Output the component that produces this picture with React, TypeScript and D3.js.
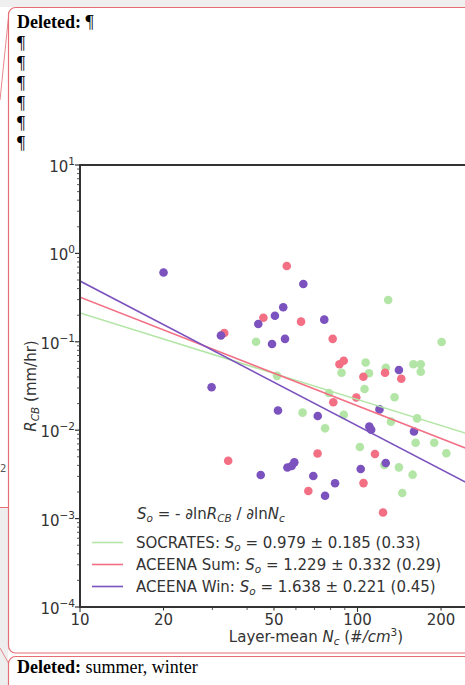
import React from 'react';
import * as d3 from 'd3';

const W = 465;
const H = 685;

// SOCRATES points (Nc in #/cm3, R_CB in mm/hr)
const socratesNc = [129, 43.1, 201, 107, 159, 169, 87.6, 110, 126.5, 169, 51.3, 106, 136, 78.9, 63.4, 89.2, 76.4, 132, 164, 102, 162, 189, 209, 125, 141, 158, 145];
const socratesR = [0.297, 0.1, 0.0995, 0.0583, 0.0557, 0.0557, 0.0447, 0.0441, 0.0509, 0.0459, 0.0412, 0.0292, 0.0236, 0.0264, 0.0158, 0.0149, 0.0105, 0.0125, 0.0136, 0.00646, 0.00722, 0.00722, 0.00548, 0.00404, 0.0038, 0.00314, 0.00195];

// ACEENA summer
const sumNc = [33.1, 34.2, 55.6, 45.8, 62.6, 81.4, 86.1, 89.2, 105, 125.7, 143.8, 99, 81.8, 71.8, 115.6, 66.5, 105.1, 123.6];
const sumR = [0.126, 0.00452, 0.72, 0.187, 0.169, 0.108, 0.0557, 0.0611, 0.0403, 0.0447, 0.0382, 0.0234, 0.0207, 0.00545, 0.00538, 0.00205, 0.00252, 0.00117];

// ACEENA winter
const winNc = [20, 32.2, 29.8, 43.9, 50.4, 54, 63.8, 75.9, 49.2, 54.8, 141, 51.7, 71.9, 120, 110.3, 112, 159.8, 44.8, 55.9, 57.9, 59.2, 69.3, 83, 76.4, 102.7, 126.4];
const winR = [0.608, 0.118, 0.0306, 0.159, 0.197, 0.246, 0.451, 0.178, 0.0944, 0.108, 0.048, 0.0167, 0.0145, 0.0172, 0.011, 0.0101, 0.00967, 0.00311, 0.00378, 0.00394, 0.00433, 0.00303, 0.00251, 0.00181, 0.00364, 0.00426];

// power-law fits: R = a * (Nc/10)^(-So)
const fitNames = ['SOCRATES', 'ACEENA Sum', 'ACEENA Win'];
const fitSlope = [0.979, 1.229, 1.638];
const fitErr = [0.185, 0.332, 0.221];
const fitR2 = ['0.33', '0.29', '0.45'];
const fitAt10 = [0.212, 0.32, 0.487];
const colors = ['#b3e6a6', '#f26f84', '#7b52be'];

const xTicks = [10, 20, 50, 100, 200];
const xMinor = [30, 40, 60, 70, 80, 90, 300];
const yTicks = [1e-4, 1e-3, 1e-2, 1e-1, 1, 10];
const yTickExp = ['−4', '−3', '−2', '−1', '0', '1'];

const FONT = '"DejaVu Sans", sans-serif';
const SERIF = '"Liberation Serif", "Times New Roman", serif';

export default function App() {
  const x = d3.scaleLog().domain([10, 100]).range([80, 357.5]);
  const y = d3.scaleLog().domain([1e-4, 10]).range([607, 165]);
  const xMax = 300;
  const left = x(10), right = x(xMax), top = y(10), bottom = y(1e-4);

  const yMinor: number[] = [];
  for (let e = -4; e < 1; e++) for (let k = 2; k < 10; k++) yMinor.push(k * Math.pow(10, e));

  const series = [
    { nc: socratesNc, r: socratesR },
    { nc: sumNc, r: sumR },
    { nc: winNc, r: winR },
  ];

  const fitPath = (k: number) => {
    const pts = [10, xMax].map(n => [x(n), y(fitAt10[k] * Math.pow(n / 10, -fitSlope[k]))] as [number, number]);
    return d3.line()(pts) || '';
  };

  const paraY = [49, 69, 89, 109, 129, 149];

  return (
    <svg width={W} height={H} style={{ position: 'fixed', left: 0, top: 0 }}>
      <rect x={0} y={0} width={W} height={H} fill="#ffffff" />
      {/* word page chrome */}
      <rect x={0} y={0} width={W} height={7} fill="#efefef" />
      <rect x={0} y={507} width={8} height={H - 507} fill="#eeeeee" />
      <line x1={9} y1={12} x2={0} y2={100} stroke="#e8868a" strokeWidth={1} />
      <line x1={0} y1={507.5} x2={9} y2={507.5} stroke="#e46e73" strokeWidth={1} />
      <line x1={0} y1={648} x2={9} y2={664} stroke="#e8868a" strokeWidth={1} />
      <text x={0} y={472} fontFamily={FONT} fontSize={10} fill="#555">2</text>
      <rect x={8.5} y={7.5} width={520} height={645.5} rx={7} fill="#ffffff" stroke="#e46e73" strokeWidth={1.2} />
      <rect x={8.5} y={656.5} width={520} height={60} rx={7} fill="#ffffff" stroke="#e46e73" strokeWidth={1.2} />
      <text x={17} y={28} fontFamily={SERIF} fontSize={18} fill="#000">
        <tspan fontWeight="bold">Deleted:</tspan> ¶
      </text>
      {paraY.map(py => (
        <text key={py} x={17} y={py} fontFamily={SERIF} fontSize={18} fill="#000">¶</text>
      ))}
      <text x={17} y={673} fontFamily={SERIF} fontSize={18} fill="#000">
        <tspan fontWeight="bold">Deleted:</tspan> summer, winter
      </text>

      {/* scatter */}
      {series.map((s, k) => (
        <g key={k}>
          {s.nc.map((n, i) => (
            <circle key={i} cx={x(n)} cy={y(s.r[i])} r={4.3} fill={colors[k]} />
          ))}
        </g>
      ))}

      {/* fit lines */}
      <defs>
        <clipPath id="plotclip">
          <rect x={left} y={top} width={right - left} height={bottom - top} />
        </clipPath>
      </defs>
      <g clipPath="url(#plotclip)">
        {fitNames.map((f, k) => (
          <path key={f} d={fitPath(k)} stroke={colors[k]} strokeWidth={1.6} fill="none" />
        ))}
      </g>

      {/* axes frame */}
      <rect x={left} y={top} width={right - left} height={bottom - top} fill="none" stroke="#333" strokeWidth={2} />

      {/* y ticks */}
      {yMinor.map((v, i) => (
        <line key={'ym' + i} x1={left - 3} x2={left} y1={y(v)} y2={y(v)} stroke="#333" strokeWidth={0.8} />
      ))}
      {yTicks.map((v, i) => (
        <g key={'y' + i}>
          <line x1={left - 5} x2={left} y1={y(v)} y2={y(v)} stroke="#333" strokeWidth={1.2} />
          <text x={left - 5} y={y(v) + 7} textAnchor="end" fontFamily={FONT} fontSize={15} fill="#333">
            10<tspan dy={-7} fontSize={10.5}>{yTickExp[i]}</tspan>
          </text>
        </g>
      ))}

      {/* x ticks */}
      {xMinor.map((v, i) => (
        <line key={'xm' + i} x1={x(v)} x2={x(v)} y1={bottom} y2={bottom + 3} stroke="#333" strokeWidth={0.8} />
      ))}
      {xTicks.map((v, i) => (
        <g key={'x' + i}>
          <line x1={x(v)} x2={x(v)} y1={bottom} y2={bottom + (v === 10 || v === 100 ? 5 : 3.5)} stroke="#333" strokeWidth={1.1} />
          <text x={x(v)} y={625} textAnchor="middle" fontFamily={FONT} fontSize={15} fill="#333">{v}</text>
        </g>
      ))}

      {/* axis labels */}
      <text x={316} y={642} textAnchor="middle" fontFamily={FONT} fontSize={15} fill="#333">
        Layer-mean <tspan fontStyle="italic">N</tspan>
        <tspan fontStyle="italic" fontSize={10.5} dy={3}>c</tspan>
        <tspan dy={-3}> (</tspan>
        <tspan fontStyle="italic">#/cm</tspan>
        <tspan fontSize={10.5} dy={-6}>3</tspan>
        <tspan dy={6}>)</tspan>
      </text>
      <text transform={`translate(36,386) rotate(-90)`} textAnchor="middle" fontFamily={FONT} fontSize={15} fill="#333">
        <tspan fontStyle="italic">R</tspan>
        <tspan fontStyle="italic" fontSize={10.5} dy={3}>CB</tspan>
        <tspan dy={-3}> (mm/hr)</tspan>
      </text>

      {/* legend */}
      <text x={137} y={519} fontFamily={FONT} fontSize={15} fill="#333">
        <tspan fontStyle="italic">S</tspan>
        <tspan fontStyle="italic" fontSize={10.5} dy={3}>o</tspan>
        <tspan dy={-3}> = - ∂ln</tspan>
        <tspan fontStyle="italic">R</tspan>
        <tspan fontStyle="italic" fontSize={10.5} dy={3}>CB</tspan>
        <tspan dy={-3}> / ∂ln</tspan>
        <tspan fontStyle="italic">N</tspan>
        <tspan fontStyle="italic" fontSize={10.5} dy={3}>c</tspan>
      </text>
      {fitNames.map((f, k) => {
        const ly = 548 + k * 22;
        return (
          <g key={'lg' + f}>
            <line x1={92} x2={123} y1={ly - 5.5} y2={ly - 5.5} stroke={colors[k]} strokeWidth={1.6} />
            <text x={136} y={ly} fontFamily={FONT} fontSize={15} fill="#333">
              {f}: <tspan fontStyle="italic">S</tspan>
              <tspan fontStyle="italic" fontSize={10.5} dy={3}>o</tspan>
              <tspan dy={-3}> = {fitSlope[k].toFixed(3)} ± {fitErr[k].toFixed(3)} ({fitR2[k]})</tspan>
            </text>
          </g>
        );
      })}
    </svg>
  );
}
